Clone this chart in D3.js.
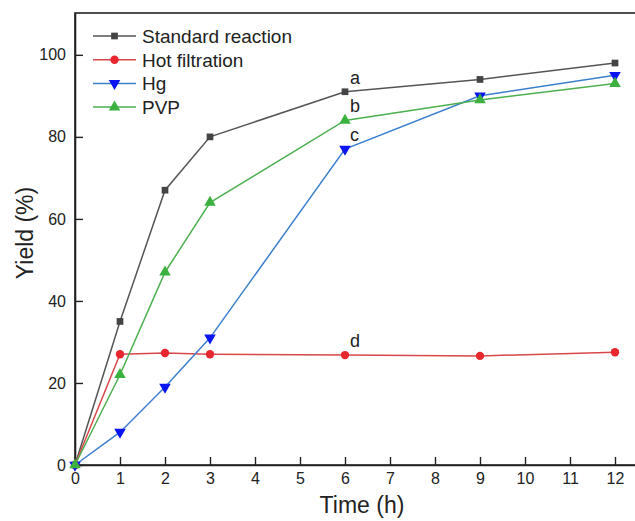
<!DOCTYPE html>
<html>
<head>
<meta charset="utf-8">
<script src="https://cdn.jsdelivr.net/npm/d3@7"></script>
<style>
  body { margin: 0; background: #fff; }
  text { font-family: "Liberation Sans", Arial, sans-serif; fill: #222; }
</style>
</head>
<body>
<div id="chart-area"></div>
<script>
// DATA
// ****
let times = [0, 1, 2, 3, 6, 9, 12]
let standard = [0, 35, 67, 80, 91, 94, 98]
let hotFiltration = [0, 27, 27.3, 27, 26.8, 26.6, 27.5]
let hg = [0, 8, 19, 31, 77, 90, 95]
let pvp = [0, 22, 47, 64, 84, 89, 93]
let xTicks = [0, 1, 2, 3, 4, 5, 6, 7, 8, 9, 10, 11, 12]
let yTicks = [0, 20, 40, 60, 80, 100]
let seriesNames = ["Standard reaction", "Hot filtration", "Hg", "PVP"]
let letters = ["a", "b", "c", "d"]

let series = [
  {name: seriesNames[0], values: standard, line: "#555555", fill: "#444444", shape: d3.symbolSquare, rot: 0, size: 45},
  {name: seriesNames[1], values: hotFiltration, line: "#d9474b", fill: "#e8262e", shape: d3.symbolCircle, rot: 0, size: 55},
  {name: seriesNames[2], values: hg, line: "#3d7fcc", fill: "#0a14f0", shape: d3.symbolTriangle, rot: 180, size: 58},
  {name: seriesNames[3], values: pvp, line: "#4cb050", fill: "#3bb23f", shape: d3.symbolTriangle, rot: 0, size: 58}
]

// MARGINS & GROUPS
// ****************
let width = 635
let height = 521

let svg = d3.select("#chart-area")
  .append("svg")
    .attr("width", width)
    .attr("height", height)

let x = d3.scaleLinear().domain([0, 12.5]).range([75, 637.5])
let y = d3.scaleLinear().domain([0, 110.2]).range([465, 13])

// frame
svg.append("rect")
  .attr("x", x(0))
  .attr("y", y(110.2))
  .attr("width", x(12.5) - x(0))
  .attr("height", y(0) - y(110.2))
  .attr("fill", "none")
  .attr("stroke", "#222")
  .attr("stroke-width", 1.6)

// AXES
// ****
let bottomAxis = d3.axisBottom(x).tickValues(xTicks).tickSize(0).tickPadding(8)
let gx = svg.append("g")
  .attr("transform", "translate(0, " + y(0) + ")")
  .call(bottomAxis)
gx.select(".domain").attr("stroke", "#222").attr("stroke-width", 1.6)
gx.selectAll(".tick text").attr("font-size", "16px").attr("fill", "#222")
gx.selectAll(".tick").append("line")
  .attr("y2", -8).attr("stroke", "#222").attr("stroke-width", 1.4)

let leftAxis = d3.axisLeft(y).tickValues(yTicks).tickSize(0).tickPadding(9)
let gy = svg.append("g")
  .attr("transform", "translate(" + x(0) + ", 0)")
  .call(leftAxis)
gy.select(".domain").attr("stroke", "#222").attr("stroke-width", 1.6)
gy.selectAll(".tick text").attr("font-size", "16px").attr("fill", "#222")
gy.selectAll(".tick").append("line")
  .attr("x2", 8).attr("stroke", "#222").attr("stroke-width", 1.4)

// LABELS
// ******
svg.append("text")
  .attr("x", -233)
  .attr("y", 33)
  .attr("font-size", "23px")
  .attr("text-anchor", "middle")
  .attr("transform", "rotate(-90)")
  .text("Yield (%)")

svg.append("text")
  .attr("x", 362)
  .attr("y", 513)
  .attr("font-size", "23px")
  .attr("text-anchor", "middle")
  .text("Time (h)")

// LINES & MARKERS
// ***************
let line = d3.line().x((d, i) => x(times[i])).y(d => y(d))

series.forEach(s => {
  svg.append("path")
    .attr("d", line(s.values))
    .attr("fill", "none")
    .attr("stroke", s.line)
    .attr("stroke-width", 1.5)
})

series.forEach(s => {
  svg.selectAll(null).data(s.values).enter()
    .append("path")
    .attr("d", d3.symbol().type(s.shape).size(s.size))
    .attr("transform", (d, i) => "translate(" + x(times[i]) + "," + y(d) + ") rotate(" + s.rot + ")")
    .attr("fill", s.fill)
})

// letters at t = 6 h
let letterY = [standard[4], pvp[4], hg[4], hotFiltration[4]]
svg.selectAll(".letter").data(letters).enter()
  .append("text")
  .attr("class", "letter")
  .attr("x", x(times[4]) + 5)
  .attr("y", (d, i) => y(letterY[i]) - 8)
  .attr("font-size", "18px")
  .text(d => d)

// LEGEND
// ******
let legend = svg.append("g").attr("transform", "translate(93, 36)")
let items = legend.selectAll("g").data(series).enter()
  .append("g")
  .attr("transform", (d, i) => "translate(0," + i * 23.7 + ")")
items.append("line")
  .attr("x1", 0).attr("x2", 43)
  .attr("stroke", d => d.line).attr("stroke-width", 1.5)
items.append("path")
  .attr("d", d => d3.symbol().type(d.shape).size(d.size)())
  .attr("transform", d => "translate(21.5,0) rotate(" + d.rot + ")")
  .attr("fill", d => d.fill)
items.append("text")
  .attr("x", 49)
  .attr("y", 7)
  .attr("font-size", "19px")
  .text(d => d.name)
</script>
</body>
</html>
